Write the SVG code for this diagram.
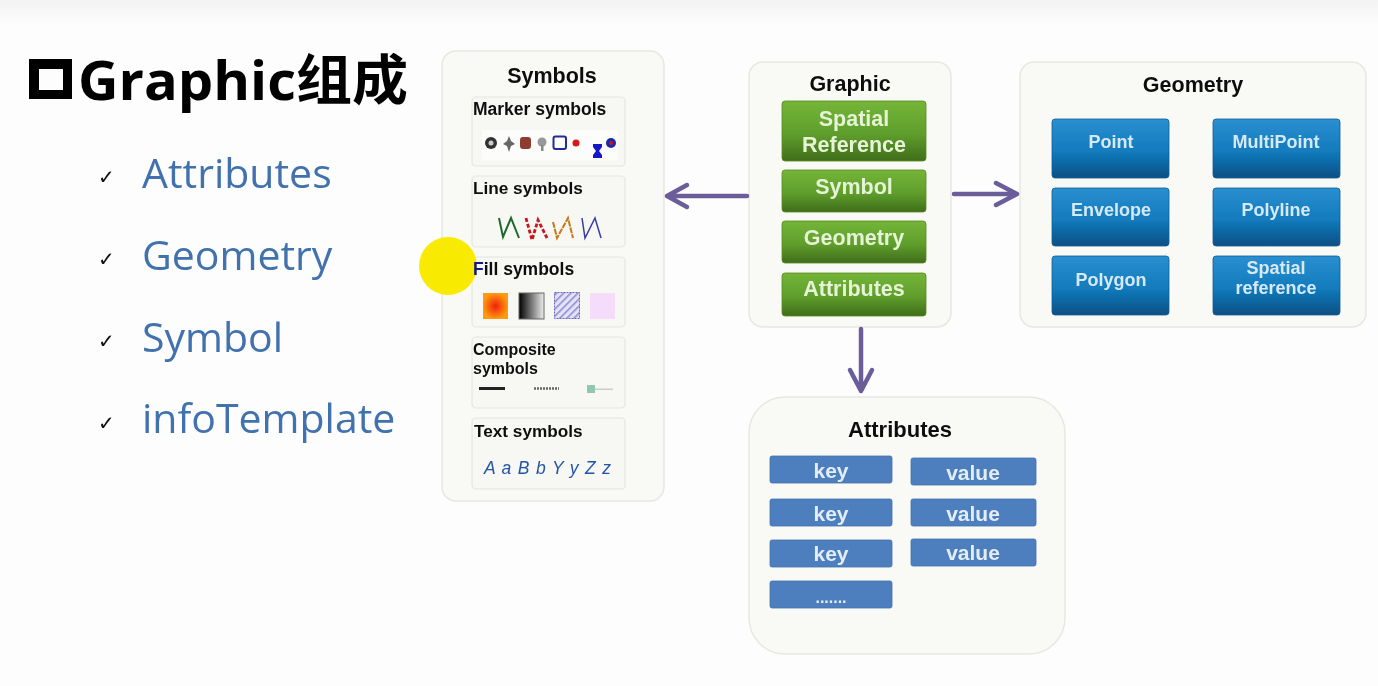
<svg xmlns="http://www.w3.org/2000/svg" width="1378" height="686" viewBox="0 0 1378 686">
<style>
text{font-family:"Liberation Sans",Arial,"Noto Sans CJK SC",sans-serif}
.panel{fill:#f9f9f6;stroke:#e8e8e2;stroke-width:1.5}
.sub{fill:#f7f7f3;stroke:#e6e6e0;stroke-width:1.2}
.h{font-weight:700;font-size:21.5px;fill:#111;text-anchor:middle}
.s{font-weight:700;font-size:17.2px;fill:#111}
.g{fill:url(#green);stroke:#5b8a22;stroke-width:.8}
.gt{font-weight:700;font-size:21.5px;fill:#e6f3d6;text-anchor:middle}
.b{fill:url(#blue);stroke:#0f5e96;stroke-width:.8}
.bt{font-weight:700;font-size:18px;fill:#d6e9f6;text-anchor:middle}
.k{fill:#4d7fbe;stroke:#4372ad;stroke-width:.8}
.kt{font-weight:700;font-size:21px;fill:#e4edf7;text-anchor:middle}
.li{font-family:"Open Sans","Noto Sans",sans-serif;font-size:41px;fill:#4272ad}
.ck{font-family:"DejaVu Sans",sans-serif;font-size:20px;fill:#111}
.ar{fill:none;stroke:#6a5d9a;stroke-width:4.5;stroke-linecap:round;stroke-linejoin:round}
.soft{filter:url(#soft)}
</style>
<defs>
<filter id="soft" x="-2%" y="-2%" width="104%" height="104%"><feGaussianBlur stdDeviation=".45"/></filter>
<linearGradient id="top" x1="0" y1="0" x2="0" y2="1"><stop offset="0" stop-color="#f3f3f3"/><stop offset="1" stop-color="#fdfdfd"/></linearGradient>
<linearGradient id="green" x1="0" y1="0" x2="0" y2="1"><stop offset="0" stop-color="#74b538"/><stop offset=".55" stop-color="#5f9e2c"/><stop offset="1" stop-color="#3f6d1a"/></linearGradient>
<linearGradient id="blue" x1="0" y1="0" x2="0" y2="1"><stop offset="0" stop-color="#2a8fd0"/><stop offset=".55" stop-color="#127bbd"/><stop offset="1" stop-color="#0a4f84"/></linearGradient>
<radialGradient id="fire"><stop offset="0" stop-color="#f0200a"/><stop offset="1" stop-color="#fd9a10"/></radialGradient>
<linearGradient id="bw"><stop offset="0" stop-color="#000"/><stop offset="1" stop-color="#eee"/></linearGradient>
<pattern id="hatch" width="5" height="5" patternUnits="userSpaceOnUse" patternTransform="rotate(45)"><rect width="5" height="5" fill="#e4e2f6"/><rect width="1.6" height="5" fill="#8f8bd2"/></pattern>
</defs>
<rect width="1378" height="686" fill="#fdfdfd"/>
<rect width="1378" height="26" fill="url(#top)"/>

<g class="soft">
<g id="title">
<path fill-rule="evenodd" d="M29 59H72V99H29ZM39 69V90H63V69Z" fill="#000"/>
<text x="78" y="100" font-size="54" font-weight="700" fill="#000" style="font-family:'Open Sans','Noto Sans CJK SC',sans-serif" textLength="330" lengthAdjust="spacingAndGlyphs">Graphic组成</text>
</g>
<g id="list">
<text class="ck" x="98" y="184">✓</text><text class="li" x="142" y="188">Attributes</text>
<text class="ck" x="98" y="266">✓</text><text class="li" x="142" y="270">Geometry</text>
<text class="ck" x="98" y="348">✓</text><text class="li" x="142" y="352">Symbol</text>
<text class="ck" x="98" y="430">✓</text><text class="li" x="142" y="433">infoTemplate</text>
</g>

<g id="symbols">
<rect class="panel" x="442" y="51" width="222" height="450" rx="14"/>
<text class="h" x="552" y="83">Symbols</text>
<rect class="sub" x="472" y="97" width="153" height="69" rx="4"/>
<text class="s" x="473" y="115" style="font-size:17.500px">Marker symbols</text>
<rect class="sub" x="472" y="176" width="153" height="71" rx="4"/>
<text class="s" x="473" y="194">Line symbols</text>
<rect class="sub" x="472" y="257" width="153" height="70" rx="4"/>
<rect class="sub" x="472" y="337" width="153" height="71" rx="4"/>
<text class="s" x="473" y="355" style="font-size:16px">Composite</text><text class="s" x="473" y="374" style="font-size:16px">symbols</text>
<rect class="sub" x="472" y="418" width="153" height="71" rx="4"/>
<text class="s" x="474" y="437">Text symbols</text>
<rect x="482" y="130" width="136" height="30" fill="#fff" opacity=".6"/>
<circle cx="491" cy="143" r="6" fill="#333"/><circle cx="491" cy="143" r="2.500" fill="#ccc"/>
<path d="M509 136l2 5 4 3-4 2-2 6-2-6-4-2 4-3z" fill="#666"/>
<rect x="520" y="137" width="11" height="12" rx="3" fill="#8e3a32"/>
<circle cx="542" cy="142" r="4.500" fill="#999"/><rect x="541" y="145" width="2.500" height="6" fill="#888"/>
<rect x="553.500" y="136.500" width="12.500" height="12.500" rx="2" fill="none" stroke="#222a9c" stroke-width="2"/>
<circle cx="576" cy="143" r="3.500" fill="#d8141c"/>
<path d="M593 144h9v3l-3 4 3 4v3h-9v-3l3-4-3-4z" fill="#1414c8"/>
<circle cx="611" cy="143" r="5" fill="#1a2aa8"/><circle cx="611" cy="143" r="2" fill="#c8141c"/>
<path d="M499 218l4 19 8-19 8 20" fill="none" stroke="#1f6a2c" stroke-width="2"/>
<path d="M526 218l6 22 6-20 9 18" fill="none" stroke="#c8141c" stroke-width="2.800" stroke-dasharray="4 2"/>
<path d="M553 222l4 16 11-20 5 20" fill="none" stroke="#c47a14" stroke-width="2" stroke-dasharray="6 1"/>
<path d="M582 218l3 20 10-20 6 20" fill="none" stroke="#3a3aa8" stroke-width="1.500"/>
<rect x="483" y="293" width="25" height="26" fill="url(#fire)"/>
<rect x="519" y="293" width="25" height="26" fill="url(#bw)" stroke="#666"/>
<rect x="554.500" y="292.500" width="25" height="26" fill="url(#hatch)" stroke="#6a66c0" stroke-dasharray="2 1"/>
<rect x="590" y="293" width="25" height="26" fill="#f5dcfa"/>
<rect x="479" y="387" width="26" height="3" fill="#222"/>
<path d="M534 388.500H559" stroke="#666" stroke-width="2.500" stroke-dasharray="2 1"/>
<rect x="587" y="385" width="8" height="8" fill="#8fc7b2"/><rect x="595" y="388.500" width="18" height="1.500" fill="#ccc"/>
<text x="484" y="474" font-size="17.500" font-style="italic" fill="#2454a8" textLength="127">A a B b Y y Z z</text>
</g>

<g id="graphic">
<rect class="panel" x="749" y="62" width="202" height="265" rx="14"/>
<text class="h" x="850" y="91">Graphic</text>
<rect class="g" x="782" y="101" width="144" height="60" rx="3"/>
<text class="gt" x="854" y="126">Spatial</text><text class="gt" x="854" y="152">Reference</text>
<rect class="g" x="782" y="170" width="144" height="42" rx="3"/>
<text class="gt" x="854" y="194">Symbol</text>
<rect class="g" x="782" y="221" width="144" height="42" rx="3"/>
<text class="gt" x="854" y="245">Geometry</text>
<rect class="g" x="782" y="273" width="144" height="43" rx="3"/>
<text class="gt" x="854" y="296">Attributes</text>
</g>

<g id="geometry">
<rect class="panel" x="1020" y="62" width="346" height="265" rx="14"/>
<text class="h" x="1193" y="92">Geometry</text>
<rect class="b" x="1052" y="119" width="117" height="59" rx="3"/><text class="bt" x="1111" y="148">Point</text>
<rect class="b" x="1213" y="119" width="127" height="59" rx="3"/><text class="bt" x="1276" y="148">MultiPoint</text>
<rect class="b" x="1052" y="188" width="117" height="58" rx="3"/><text class="bt" x="1111" y="216">Envelope</text>
<rect class="b" x="1213" y="188" width="127" height="58" rx="3"/><text class="bt" x="1276" y="216">Polyline</text>
<rect class="b" x="1052" y="256" width="117" height="59" rx="3"/><text class="bt" x="1111" y="286">Polygon</text>
<rect class="b" x="1213" y="256" width="127" height="59" rx="3"/><text class="bt" x="1276" y="274">Spatial</text><text class="bt" x="1276" y="294">reference</text>
</g>

<g id="attributes">
<rect class="panel" x="749" y="397" width="316" height="257" rx="36"/>
<text class="h" x="900" y="437" style="font-size:22px">Attributes</text>
<rect class="k" x="770" y="456" width="122" height="27" rx="2"/><text class="kt" x="831" y="478">key</text>
<rect class="k" x="911" y="458" width="125" height="27" rx="2"/><text class="kt" x="973" y="480">value</text>
<rect class="k" x="770" y="499" width="122" height="27" rx="2"/><text class="kt" x="831" y="521">key</text>
<rect class="k" x="911" y="499" width="125" height="27" rx="2"/><text class="kt" x="973" y="521">value</text>
<rect class="k" x="770" y="540" width="122" height="27" rx="2"/><text class="kt" x="831" y="561">key</text>
<rect class="k" x="911" y="539" width="125" height="27" rx="2"/><text class="kt" x="973" y="560">value</text>
<rect class="k" x="770" y="581" width="122" height="27" rx="2"/><text class="kt" x="831" y="603" style="font-size:16px">.......</text>
</g>

<g id="connectors">
<path class="ar" d="M747 196H667M687 185l-20 11 20 11"/>
<path class="ar" d="M954 194H1017M996 183l21 11-21 11"/>
<path class="ar" d="M861 329V391M850 370l11 21 11-21"/>
</g>

<circle id="cursor" cx="448" cy="266" r="29" fill="#f8ea00"/>
<text id="fill-label" class="s" x="473" y="275" style="font-size:17.500px"><tspan fill="#16168c">F</tspan>ill symbols</text>
</g>
</svg>
